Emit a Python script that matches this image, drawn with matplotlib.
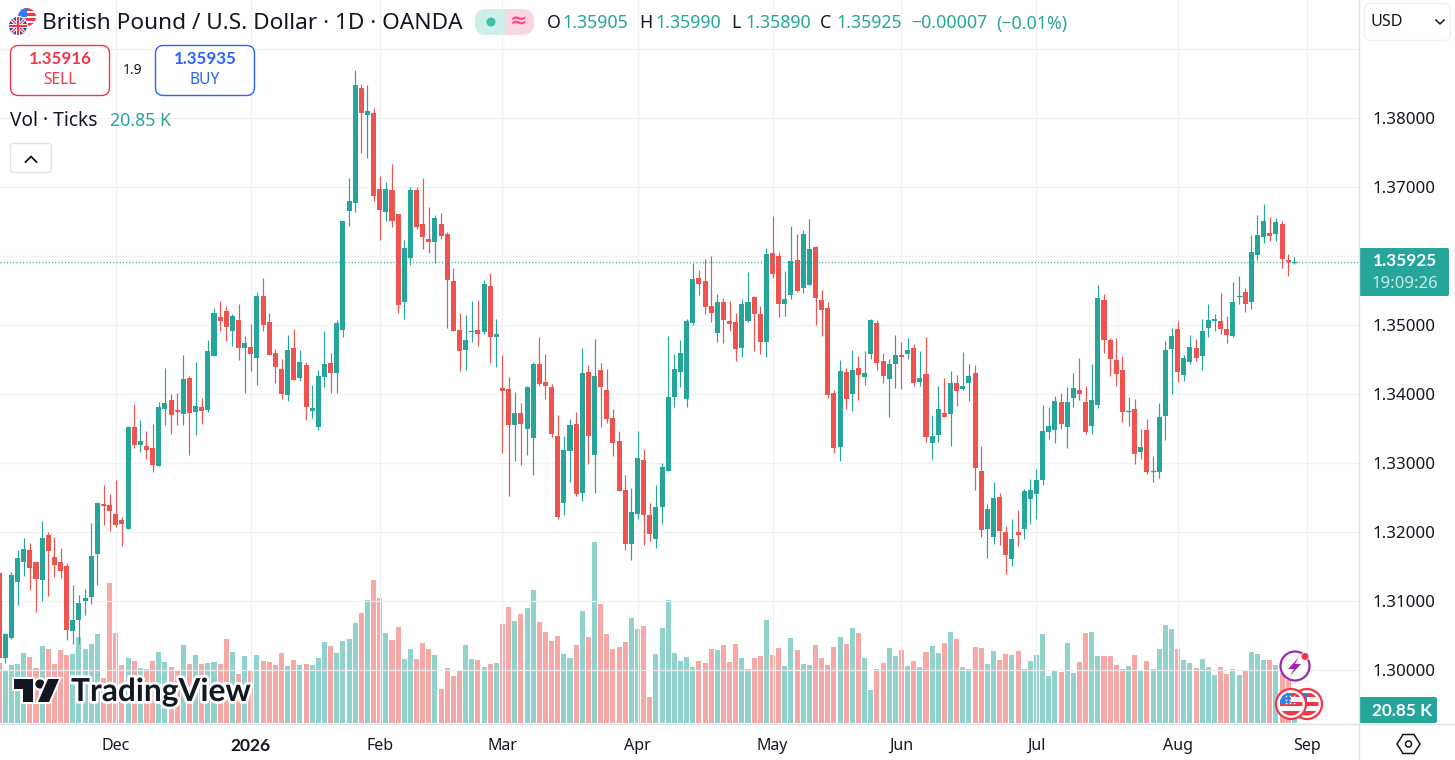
# -*- coding: utf-8 -*-
"""GBP/USD daily candles with tick volume, drawn as a TradingView style screen."""
import matplotlib
matplotlib.use("Agg")
import matplotlib.pyplot as plt
import matplotlib.patches as patches
import matplotlib.patheffects as pe

plt.rcParams['font.family'] = ['Noto Sans', 'DejaVu Sans']
BOLD = ['Lato', 'DejaVu Sans']

# one entry per trading day, oldest first
opens = [1.31414, 1.30185, 1.30476, 1.31287, 1.31576, 1.31742, 1.31568, 1.31316, 1.31959, 1.3164,
         1.31568, 1.31511, 1.30577, 1.30736, 1.31012, 1.31069, 1.31692, 1.32413, 1.32394, 1.32264,
         1.32177, 1.32055, 1.33525, 1.33272, 1.33259, 1.3322, 1.32968, 1.3379, 1.3392, 1.33775,
         1.33717, 1.34239, 1.33746, 1.33819, 1.33775, 1.34558, 1.35123, 1.35211, 1.34921, 1.3508,
         1.34674, 1.34688, 1.3453, 1.35427, 1.35051, 1.34602, 1.3437, 1.33993, 1.34674, 1.34239,
         1.34428, 1.33761, 1.33529, 1.34254, 1.34457, 1.34312, 1.34935, 1.3666, 1.36775, 1.38442,
         1.38051, 1.3808, 1.36978, 1.36645, 1.36964, 1.36616, 1.35341, 1.35978, 1.36964, 1.36471,
         1.36254, 1.3621, 1.36471, 1.36326, 1.35645, 1.34935, 1.34645, 1.34906, 1.34935, 1.34906,
         1.35572, 1.34833, 1.34094, 1.3408, 1.33558, 1.33732, 1.33501, 1.3337, 1.34442, 1.34181,
         1.34109, 1.33399, 1.32428, 1.33181, 1.33572, 1.32573, 1.34326, 1.33123, 1.34355, 1.34065,
         1.3366, 1.33326, 1.32616, 1.31833, 1.32268, 1.33051, 1.32254, 1.31906, 1.3237, 1.32891,
         1.33964, 1.34326, 1.33935, 1.35037, 1.35688, 1.35645, 1.35283, 1.34892, 1.35341, 1.35066,
         1.35051, 1.34674, 1.35066, 1.35413, 1.35167, 1.34761, 1.36051, 1.36007, 1.35312, 1.35442,
         1.35949, 1.35543, 1.35587, 1.36138, 1.3537, 1.35254, 1.34022, 1.33239, 1.34326, 1.34007,
         1.34384, 1.34254, 1.34587, 1.35037, 1.34486, 1.34225, 1.34442, 1.34573, 1.34587, 1.34674,
         1.34181, 1.34297, 1.33297, 1.33413, 1.33732, 1.33717, 1.34167, 1.3408, 1.34167, 1.34312,
         1.32891, 1.3205, 1.31935, 1.32515, 1.32007, 1.31616, 1.32007, 1.3205, 1.32486, 1.32558,
         1.32761, 1.33457, 1.33486, 1.33891, 1.33529, 1.33949, 1.34065, 1.33891, 1.33544, 1.33848,
         1.3537, 1.3479, 1.345, 1.34355, 1.33746, 1.33789, 1.33167, 1.33486, 1.32877, 1.32877,
         1.33688, 1.3466, 1.3495, 1.34283, 1.34471, 1.34674, 1.34558, 1.34964, 1.35066, 1.35066,
         1.3495, 1.34848, 1.35413, 1.35485, 1.35341, 1.36022, 1.36283, 1.3634, 1.36326, 1.36471,
         1.35949, 1.35905]
highs = [1.31414, 1.30539, 1.31424, 1.31742, 1.31916, 1.31843, 1.31572, 1.32162, 1.32003, 1.3193,
         1.31771, 1.31553, 1.31235, 1.3109, 1.31177, 1.32133, 1.32438, 1.32684, 1.32554, 1.32757,
         1.3222, 1.33539, 1.33858, 1.33626, 1.33467, 1.33568, 1.33887, 1.34384, 1.34007, 1.34022,
         1.34573, 1.34268, 1.34471, 1.33949, 1.3479, 1.35254, 1.35355, 1.35283, 1.35167, 1.35312,
         1.34848, 1.35022, 1.35485, 1.35688, 1.35182, 1.3466, 1.34515, 1.34863, 1.3495, 1.34645,
         1.34471, 1.34138, 1.34355, 1.34921, 1.34602, 1.3508, 1.36471, 1.37138, 1.38703, 1.385,
         1.38486, 1.38152, 1.37167, 1.3708, 1.37341, 1.36616, 1.36239, 1.37008, 1.37008, 1.37138,
         1.36718, 1.36602, 1.36631, 1.36355, 1.35833, 1.35182, 1.35153, 1.35355, 1.3537, 1.35659,
         1.35761, 1.35095, 1.34573, 1.34254, 1.34036, 1.33877, 1.34123, 1.34471, 1.34833, 1.34587,
         1.34152, 1.33703, 1.33399, 1.33645, 1.33746, 1.34674, 1.34428, 1.34804, 1.34457, 1.3437,
         1.33789, 1.33472, 1.32834, 1.32645, 1.33472, 1.3321, 1.32428, 1.32688, 1.33007, 1.34848,
         1.34587, 1.3479, 1.35095, 1.35906, 1.35804, 1.35963, 1.36007, 1.35456, 1.35399, 1.35355,
         1.35182, 1.35384, 1.35775, 1.35427, 1.35283, 1.36123, 1.36587, 1.36065, 1.3579, 1.36442,
         1.36326, 1.36384, 1.36543, 1.36152, 1.35514, 1.35341, 1.34065, 1.345, 1.34384, 1.34645,
         1.34558, 1.34631, 1.35095, 1.3508, 1.34602, 1.34515, 1.34863, 1.34761, 1.34819, 1.34732,
         1.34631, 1.34833, 1.33703, 1.34123, 1.34239, 1.3434, 1.34283, 1.34616, 1.34442, 1.34428,
         1.33254, 1.32413, 1.32732, 1.32573, 1.32094, 1.32196, 1.32326, 1.3263, 1.32775, 1.3292,
         1.33848, 1.33819, 1.33978, 1.34022, 1.34109, 1.34312, 1.34529, 1.34123, 1.34442, 1.35587,
         1.35456, 1.34819, 1.34819, 1.34558, 1.33964, 1.33935, 1.33501, 1.33645, 1.33109, 1.33877,
         1.34775, 1.34964, 1.35066, 1.34573, 1.34863, 1.34804, 1.35095, 1.35312, 1.35167, 1.35471,
         1.35138, 1.3563, 1.35717, 1.35543, 1.36311, 1.36602, 1.36761, 1.36573, 1.36558, 1.36514,
         1.36036, 1.3599]
lows = [1.30181, 1.30113, 1.30461, 1.3095, 1.31374, 1.31171, 1.30852, 1.31012, 1.31084, 1.3136,
        1.31345, 1.30447, 1.30389, 1.30389, 1.30809, 1.30968, 1.31244, 1.32113, 1.32026, 1.32075,
        1.31808, 1.32055, 1.33229, 1.33171, 1.3307, 1.32881, 1.32968, 1.33558, 1.33428, 1.33558,
        1.33558, 1.33123, 1.33413, 1.33572, 1.33746, 1.34558, 1.34921, 1.34775, 1.34703, 1.345,
        1.34022, 1.3434, 1.34138, 1.34921, 1.34573, 1.34167, 1.33935, 1.33906, 1.3421, 1.34196,
        1.3363, 1.33659, 1.33486, 1.34109, 1.34022, 1.34022, 1.34833, 1.36442, 1.36645, 1.375,
        1.37428, 1.36804, 1.36239, 1.36514, 1.36428, 1.35182, 1.35095, 1.35876, 1.36399, 1.36109,
        1.36051, 1.35906, 1.36254, 1.34964, 1.34921, 1.3434, 1.34355, 1.34761, 1.34703, 1.34877,
        1.34457, 1.344, 1.33152, 1.32529, 1.33036, 1.32978, 1.33123, 1.32834, 1.34123, 1.33935,
        1.33384, 1.32196, 1.32254, 1.32732, 1.32529, 1.32457, 1.32993, 1.32573, 1.33529, 1.33587,
        1.33109, 1.32601, 1.31746, 1.31601, 1.32196, 1.31819, 1.31877, 1.31775, 1.32123, 1.32891,
        1.33819, 1.34109, 1.33819, 1.35008, 1.35442, 1.35167, 1.35051, 1.34761, 1.34746, 1.34921,
        1.34486, 1.34543, 1.35051, 1.34631, 1.34587, 1.34543, 1.35688, 1.35123, 1.35138, 1.35384,
        1.35485, 1.35471, 1.35587, 1.35008, 1.34848, 1.33949, 1.33152, 1.33036, 1.33789, 1.3376,
        1.3392, 1.34138, 1.34515, 1.34355, 1.34167, 1.33674, 1.34094, 1.3408, 1.34515, 1.34123,
        1.34123, 1.3331, 1.33065, 1.3331, 1.33674, 1.33254, 1.33833, 1.34065, 1.33906, 1.32616,
        1.31935, 1.3163, 1.31833, 1.31819, 1.31399, 1.31514, 1.31804, 1.31906, 1.32123, 1.32196,
        1.32688, 1.33355, 1.33297, 1.33501, 1.33225, 1.33819, 1.3392, 1.33428, 1.33428, 1.33804,
        1.34602, 1.34268, 1.34123, 1.33601, 1.33543, 1.32993, 1.33065, 1.32848, 1.32732, 1.3279,
        1.33341, 1.34007, 1.34181, 1.34196, 1.34442, 1.34486, 1.34355, 1.34833, 1.34921, 1.34877,
        1.34746, 1.34833, 1.35312, 1.35196, 1.35239, 1.35949, 1.36196, 1.36225, 1.36225, 1.35833,
        1.35717, 1.3589]
closes = [1.30185, 1.30528, 1.3138, 1.31626, 1.31756, 1.3149, 1.31331, 1.31916, 1.31736, 1.31533,
          1.31447, 1.30591, 1.30728, 1.30974, 1.31047, 1.31655, 1.32423, 1.32403, 1.32316, 1.32113,
          1.32128, 1.33525, 1.33272, 1.33322, 1.33196, 1.32982, 1.33814, 1.33877, 1.33703, 1.3376,
          1.34225, 1.33732, 1.33833, 1.3376, 1.34631, 1.35182, 1.35066, 1.34978, 1.35138, 1.34674,
          1.34746, 1.34587, 1.35427, 1.35008, 1.34573, 1.344, 1.34007, 1.34645, 1.3421, 1.34471,
          1.33819, 1.33804, 1.34268, 1.34442, 1.34312, 1.35037, 1.36514, 1.36804, 1.38486, 1.3808,
          1.38109, 1.36877, 1.36674, 1.36978, 1.36514, 1.35297, 1.36123, 1.36964, 1.36428, 1.36283,
          1.3621, 1.3656, 1.36297, 1.35659, 1.34921, 1.34631, 1.3479, 1.34921, 1.34877, 1.35601,
          1.34833, 1.34877, 1.34051, 1.33558, 1.33732, 1.33572, 1.34109, 1.34442, 1.34152, 1.34123,
          1.33428, 1.32225, 1.33196, 1.33558, 1.32558, 1.34312, 1.33399, 1.34268, 1.34109, 1.33645,
          1.33297, 1.32601, 1.31833, 1.32297, 1.3308, 1.32254, 1.31978, 1.3237, 1.32949, 1.33964,
          1.3437, 1.34602, 1.35066, 1.35674, 1.35601, 1.35268, 1.35182, 1.35341, 1.3508, 1.35022,
          1.3466, 1.35312, 1.35341, 1.35167, 1.34761, 1.36036, 1.35746, 1.35312, 1.35384, 1.35935,
          1.355, 1.36326, 1.36109, 1.35399, 1.35225, 1.33993, 1.33225, 1.3434, 1.33935, 1.34355,
          1.34283, 1.34312, 1.3508, 1.34457, 1.34268, 1.34442, 1.34573, 1.34544, 1.34645, 1.34167,
          1.34239, 1.33384, 1.33399, 1.33789, 1.33674, 1.34167, 1.34051, 1.34123, 1.34268, 1.32935,
          1.32036, 1.3234, 1.325, 1.32022, 1.31674, 1.31906, 1.31964, 1.32601, 1.32616, 1.32761,
          1.33472, 1.33544, 1.33906, 1.33572, 1.33891, 1.34094, 1.34007, 1.33457, 1.3392, 1.35399,
          1.3479, 1.34515, 1.34297, 1.33746, 1.3376, 1.33138, 1.33239, 1.32877, 1.32891, 1.33674,
          1.34645, 1.34848, 1.34326, 1.34529, 1.34688, 1.34529, 1.34921, 1.3508, 1.35095, 1.3495,
          1.34863, 1.35341, 1.35427, 1.35312, 1.36065, 1.36311, 1.36514, 1.36297, 1.365, 1.35964,
          1.35935, 1.35925]
# tick volume in thousands
volumes = [96, 85, 93, 94, 112, 106, 88, 123, 118, 94, 117, 109, 110, 138, 118, 126, 142, 72, 224, 144,
           93, 104, 99, 88, 86, 99, 114, 98, 90, 85, 125, 94, 109, 94, 96, 98, 94, 134, 114, 78,
           107, 83, 109, 99, 98, 93, 112, 91, 101, 93, 94, 93, 104, 130, 123, 112, 131, 134, 160, 176,
           197, 229, 200, 144, 133, 154, 102, 118, 102, 128, 118, 109, 54, 88, 75, 85, 125, 102, 101,
           90, 94, 96, 158, 186, 163, 174, 184, 213, 162, 146, 131, 139, 110, 104, 125, 179, 138, 290, 190,
           142, 118, 122, 130, 168, 150, 155, 42, 110, 152, 197, 112, 99, 106, 90, 99, 96, 118, 117, 125,
           98, 126, 104, 86, 104, 107, 165, 109, 120, 91, 136, 117, 94, 93, 125, 104, 93, 122, 138, 126,
           152, 144, 104, 53, 86, 96, 120, 107, 117, 91, 99, 90,
           114, 123, 112, 128, 146, 134, 90, 86, 122, 120, 94, 115, 101, 110, 109, 115, 86, 99, 109, 142,
           75, 83, 82, 128, 80, 98, 144, 146, 107, 107, 107, 93, 86, 91, 109, 85, 99, 86, 118, 157,
           150, 118, 101, 96, 88, 102, 90, 77, 90, 78, 86, 77, 83, 114, 110, 101, 101, 93, 80, 69, 20.85]

# axis labels; positions count bars from the one cut by the left edge
month_labels = ['Dec', '2026', 'Feb', 'Mar', 'Apr', 'May', 'Jun', 'Jul', 'Aug', 'Sep']
month_bars = [19, 41, 62, 82, 104, 126, 147, 169, 192, 213]
price_levels = [1.30, 1.31, 1.32, 1.33, 1.34, 1.35, 1.36, 1.37, 1.38, 1.39]
price_labels = ['1.30000', '1.31000', '1.32000', '1.33000', '1.34000', '1.35000', '', '1.37000', '1.38000', '']
last_price = 1.35925

UP = '#26a69a'
DOWN = '#ef5350'
GRID = '#f1f1f4'
LINE = '#e0e3eb'
TEXT = '#131722'

W, H = 1455, 760
fig = plt.figure(figsize=(W / 100, H / 100), dpi=100, facecolor='white')
ax = fig.add_axes([0, (H - 723) / H, 1358.5 / W, 723 / H])
ax_vol = ax.twinx()
ax.set_zorder(ax_vol.get_zorder() + 1)
ax.patch.set_visible(False)

bars = list(range(len(opens)))
is_up = [c >= o for o, c in zip(opens, closes)]
colors = [UP if u else DOWN for u in is_up]

# bars are 6.138 px apart, the first one is cut by the left edge
ax.set_xlim(0.137, 221.46)
ax.set_ylim(1.29239, 1.39717)

ax_vol.bar(bars, volumes, width=0.82, color=colors, alpha=0.5, linewidth=0)
ax_vol.set_ylim(0, 1156.8)
ax_vol.set_yticks([])

ax.vlines(bars, lows, highs, colors=colors, linewidth=0.85, zorder=3)
ax.bar(bars, [abs(c - o) for o, c in zip(opens, closes)],
       bottom=[min(o, c) for o, c in zip(opens, closes)],
       width=0.82, color=colors, linewidth=0, zorder=4)
# doji bodies are too thin to show as bars
for i in bars:
    if abs(closes[i] - opens[i]) < 0.00025:
        ax.hlines(closes[i], i - 0.41, i + 0.41, colors=colors[i], linewidth=0.9, zorder=4)

ax.axhline(last_price, color=UP, linewidth=1.0, linestyle=(0, (0.72, 1.6)), zorder=5)

ax.set_xticks(month_bars)
ax.set_xticklabels(month_labels, fontsize=11.5, color=TEXT)
ax.get_xticklabels()[1].set_fontweight('bold')
ax.get_xticklabels()[1].set_family(BOLD)
ax.get_xticklabels()[1].set_fontsize(12.5)
ax.set_yticks(price_levels)
ax.set_yticklabels(price_labels, fontsize=12.2, color=TEXT)
ax.yaxis.tick_right()
ax.tick_params(axis='x', length=0, pad=11)
ax.tick_params(axis='y', length=0, pad=10)
ax.grid(True, color=GRID, linewidth=0.85, zorder=0)
ax.set_axisbelow(True)
for sp in list(ax.spines.values()) + list(ax_vol.spines.values()):
    sp.set_visible(False)

# everything below is screen furniture, placed in pixels
ui = fig.add_axes([0, 0, 1, 1], zorder=10)
ui.set_xlim(0, W)
ui.set_ylim(H, 0)
ui.axis('off')
ui.patch.set_visible(False)


def box(x, y, w, h, face='white', edge='none', lw=1.0, r=4):
    p = patches.FancyBboxPatch((x, y), w, h, boxstyle='round,pad=0,rounding_size=%s' % r,
                               facecolor=face, edgecolor=edge, linewidth=lw)
    ui.add_patch(p)
    return p


def label(x, y, s, size=12, color=TEXT, ha='left', **kw):
    # Noto sits a little high when centred
    return ui.text(x, y + 1.5, s, fontsize=size, color=color, ha=ha, va='center', **kw)


def bold_label(x, y, s, size=12, color=TEXT, ha='left', **kw):
    return ui.text(x, y + 0.5, s, fontsize=size, color=color, ha=ha, va='center',
                   family=BOLD, fontweight='bold', **kw)


def us_flag(cx, cy, r, z=11, bands=7):
    disc = patches.Circle((cx, cy), r, transform=ui.transData)
    ui.add_patch(patches.Circle((cx, cy), r, facecolor='white', edgecolor='none', zorder=z))
    step = 2 * r / bands
    for k in range(0, bands, 2):
        s = patches.Rectangle((cx - r, cy - r + k * step), 2 * r, step,
                              facecolor='#f23645', edgecolor='none', zorder=z)
        ui.add_patch(s)
        s.set_clip_path(disc)
    c = patches.Rectangle((cx - r, cy - r), r, r, facecolor='#2f80ed', edgecolor='none', zorder=z)
    ui.add_patch(c)
    c.set_clip_path(disc)


def uk_flag(cx, cy, r, z=12):
    disc = patches.Circle((cx, cy), r, transform=ui.transData)
    ui.add_patch(patches.Circle((cx, cy), r + 1, facecolor='white', edgecolor='none', zorder=z))
    ui.add_patch(patches.Circle((cx, cy), r, facecolor='#2a4fa8', edgecolor='none', zorder=z))
    for dx, col, lw in [(1, 'white', 2.4), (-1, 'white', 2.4), (1, '#f23645', 0.9), (-1, '#f23645', 0.9)]:
        ln, = ui.plot([cx - r, cx + r], [cy - dx * r, cy + dx * r], color=col, linewidth=lw, zorder=z)
        ln.set_clip_path(disc)
    ui.plot([cx - r, cx + r], [cy, cy], color='white', linewidth=2.8, zorder=z, solid_capstyle='butt')
    ui.plot([cx, cx], [cy - r, cy + r], color='white', linewidth=2.8, zorder=z, solid_capstyle='butt')
    ui.plot([cx - r, cx + r], [cy, cy], color='#f23645', linewidth=1.5, zorder=z, solid_capstyle='butt')
    ui.plot([cx, cx], [cy - r, cy + r], color='#f23645', linewidth=1.5, zorder=z, solid_capstyle='butt')


# header
us_flag(27, 17, 9)
uk_flag(18, 26, 9)
label(42, 22, 'British Pound / U.S. Dollar · 1D · OANDA', size=16.3)

ui.add_patch(patches.FancyBboxPatch((475, 9), 59, 26, boxstyle='round,pad=0,rounding_size=12',
                                    facecolor='#fcd5e2', edgecolor='none'))
left_pill = patches.FancyBboxPatch((475, 9), 59, 26, boxstyle='round,pad=0,rounding_size=12',
                                   facecolor='#cdeee9', edgecolor='none')
ui.add_patch(left_pill)
left_pill.set_clip_path(patches.Rectangle((475, 0), 29.5, 50, transform=ui.transData))
ui.add_patch(patches.Circle((491, 22), 4.5, facecolor='#3dbfa9', edgecolor='none'))
label(519, 20, '≈', size=15, color='#ff4a8d', ha='center', fontweight='bold')

for x, s in [(547, 'O'), (639, 'H'), (731, 'L'), (820, 'C')]:
    label(x, 22, s, size=12.8)
for x, s in [(562, '1.35905'), (655, '1.35990'), (745, '1.35890'), (836, '1.35925'),
             (911, '−0.00007'), (996, '(−0.01%)')]:
    label(x, 22, s, size=12.8, color=UP)

# sell / buy
box(10.5, 45.5, 99, 50, edge='#f23645', lw=1.0, r=8)
bold_label(60, 59, '1.35916', size=12.2, color='#f23645', ha='center')
label(60, 79, 'SELL', size=11.2, color='#f23645', ha='center')
label(133, 69, '1.9', size=10, ha='center')
box(155.5, 45.5, 99, 50, edge='#2962ff', lw=1.0, r=8)
bold_label(205, 59, '1.35935', size=12.2, color='#2962ff', ha='center')
label(205, 79, 'BUY', size=11.2, color='#2962ff', ha='center')

label(10, 119, 'Vol · Ticks', size=13.8)
label(110, 119, '20.85 K', size=12.8, color=UP)
box(10.5, 143.5, 41, 29, edge=LINE, lw=1.0, r=3)
ui.plot([25.5, 31, 36.5], [162, 156.5, 162], color=TEXT, linewidth=1.3)

# watermark
halo = [pe.withStroke(linewidth=4, foreground='white')]
bold_label(71, 691, 'TradingView', size=22.8, color='#131722', path_effects=halo)
logo = [patches.Polygon([(14, 679), (33, 679), (33, 702), (23, 702), (23, 689), (14, 689)], facecolor='#131722'),
        patches.Circle((40, 684), 4.6, facecolor='#131722'),
        patches.Polygon([(48, 679), (59, 679), (49, 702), (38, 702)], facecolor='#131722')]
for p in logo:
    p.set_edgecolor('none')
    p.set_path_effects([pe.withStroke(linewidth=3, foreground='white')])
    ui.add_patch(p)

# event markers at the right end of the bars
ui.add_patch(patches.Circle((1295, 666), 14.5, facecolor='white', edgecolor='#9c27b0', linewidth=1.6, zorder=11))
ui.add_patch(patches.Polygon([(1299, 657), (1288, 669), (1294, 669), (1290, 676), (1301, 664), (1295, 664)],
                             facecolor='#9c27b0', edgecolor='none', zorder=11))
ui.add_patch(patches.Circle((1305, 656.5), 4, facecolor='#f23645', edgecolor='white', linewidth=0.6, zorder=12))
for cx, z in [(1307, 11), (1291, 13)]:
    ui.add_patch(patches.Circle((cx, 704), 15, facecolor='white', edgecolor='#f23645', linewidth=1.6, zorder=z))
    us_flag(cx, 704, 11.5, z=z, bands=5)
ui.scatter([1286, 1290, 1294, 1286, 1290, 1294, 1286, 1290, 1294], [696, 696, 696, 700, 700, 700, 703, 703, 703],
           s=1.5, color='white', linewidths=0, zorder=14)

# frame lines
ui.plot([1358.5, 1358.5], [0, H], color=LINE, linewidth=1.0)
ui.plot([0, W], [723.5, 723.5], color=LINE, linewidth=1.0)

# right scale
box(1364.5, 3.5, 86, 37, edge=GRID, lw=1.0, r=6)
label(1370, 20, 'USD', size=11.6, color=TEXT)
ui.plot([1436, 1440, 1444], [20, 24, 20], color=TEXT, linewidth=1.1)

box(1359, 248, 90, 48, face=UP, r=2)
bold_label(1373, 261, '%.5f' % last_price, size=12.4, color='white')
label(1372, 282, '19:09:26', size=12, color='#c5ebe6')
box(1359, 697, 78, 26, face=UP, r=2)
bold_label(1372, 710, '20.85 K', size=12.4, color='white')

# settings hexagon
ui.add_patch(patches.Polygon([(1397, 744), (1403, 734.5), (1414, 734.5), (1420, 744), (1414, 753.5), (1403, 753.5)],
                             facecolor='white', edgecolor=TEXT, linewidth=1.1))
ui.add_patch(patches.Circle((1408.5, 744), 3, facecolor='white', edgecolor=TEXT, linewidth=1.1))

fig.savefig('out.png', dpi=100)
